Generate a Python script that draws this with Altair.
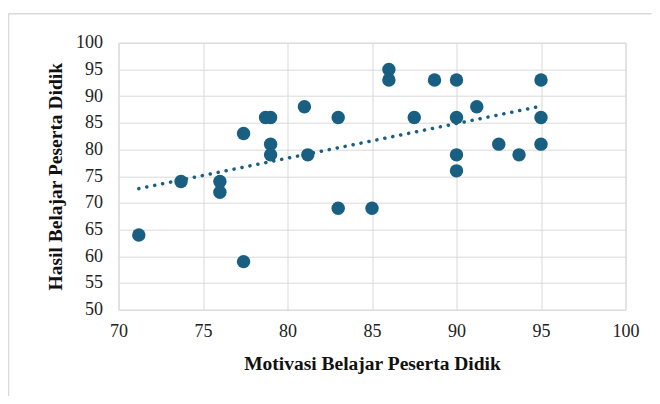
import altair as alt
import pandas as pd

motivasi = [71.2, 73.7, 76, 76, 77.4, 77.4, 78.7, 79, 79, 79, 81, 81.2, 83, 83, 85,
            86, 86, 88.7, 90, 87.5, 90, 91.2, 90, 90, 92.5, 93.7, 95, 95, 95]
hasil = [64, 74, 74, 72, 83, 59, 86, 86, 81, 79, 88, 79, 86, 69, 69,
         95, 93, 93, 93, 86, 86, 88, 79, 76, 81, 79, 93, 86, 81]

x_ticks = [70, 75, 80, 85, 90, 95, 100]
y_ticks = [50, 55, 60, 65, 70, 75, 80, 85, 90, 95, 100]

df = pd.DataFrame({"Motivasi": motivasi, "Hasil": hasil})

FONT = "Liberation Serif"
COLOR = "#185f82"
GRID = "#d9d9d9"

xscale = alt.Scale(domain=[70, 100], nice=False, zero=False)
yscale = alt.Scale(domain=[50, 100], nice=False, zero=False)

xaxis = alt.Axis(title="Motivasi Belajar Peserta Didik", values=x_ticks,
                 grid=True, gridColor=GRID, domain=False, ticks=False,
                 labelFlush=False, labelOverlap=False,
                 labelFont=FONT, labelFontSize=18, labelColor="#222", labelPadding=13,
                 titleFont=FONT, titleFontSize=19.5, titleFontWeight="bold", titleColor="#111",
                 titlePadding=14)
yaxis = alt.Axis(title="Hasil Belajar Peserta Didik", values=y_ticks,
                 grid=True, gridColor=GRID, domain=False, ticks=False,
                 labelFlush=False, labelOverlap=False,
                 labelFont=FONT, labelFontSize=18, labelColor="#222", labelPadding=16,
                 titleFont=FONT, titleFontSize=19.5, titleFontWeight="bold", titleColor="#111",
                 titlePadding=10)

points = alt.Chart(df).mark_circle(size=180, opacity=1, color=COLOR).encode(
    x=alt.X("Motivasi:Q", scale=xscale, axis=xaxis),
    y=alt.Y("Hasil:Q", scale=yscale, axis=yaxis),
)

trend = alt.Chart(df).transform_regression("Motivasi", "Hasil").mark_line(
    color=COLOR, strokeWidth=3.5, strokeDash=[0.1, 8], strokeCap="round"
).encode(
    x=alt.X("Motivasi:Q", scale=xscale, axis=xaxis),
    y=alt.Y("Hasil:Q", scale=yscale, axis=yaxis),
)

one = pd.DataFrame({"a": [0]})
frame_left = alt.Chart(one).mark_rule(color=GRID, strokeWidth=1.5).encode(
    x=alt.value(-110), y=alt.value(-29), y2=alt.value(360))
frame_top = alt.Chart(one).mark_rule(color=GRID, strokeWidth=1.5).encode(
    x=alt.value(-110), x2=alt.value(533), y=alt.value(-29))

chart = alt.layer(frame_left, frame_top, points, trend).properties(
    width=507, height=267,
    autosize=alt.AutoSizeParams(type="none"),
    padding={"left": 110.5, "top": 34.7, "right": 26.5, "bottom": 86},
    background="white",
).configure_view(stroke=GRID, strokeWidth=1)

chart.save("out.html", embed_options={"renderer": "svg", "actions": False})
